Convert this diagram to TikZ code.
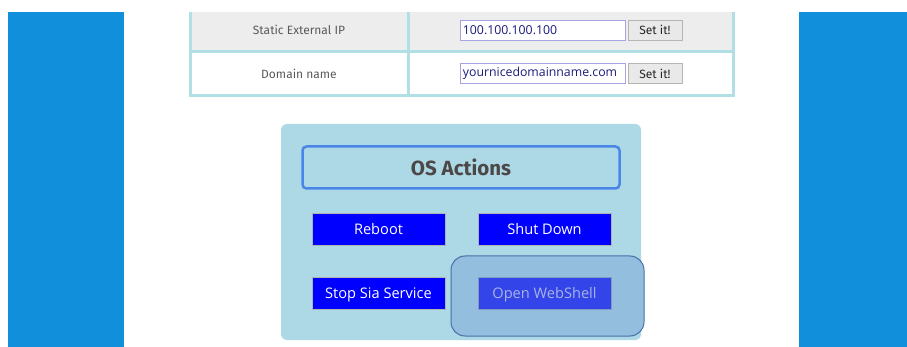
\documentclass[tikz,border=0pt]{standalone}
\usepackage{fontspec}
\setmainfont{Open Sans}
\newfontfamily\ubu{Fira Sans}
\begin{document}
\begin{tikzpicture}[x=1pt,y=-1pt,
  side/.style={fill=sideblue,draw=none},
  inbox/.style={draw=inborder,fill=white,line width=0.8pt,minimum width=165pt,minimum height=20pt,inner sep=2pt,anchor=west,text=intext,font=\fontsize{12.3}{14}\selectfont,align=left,text width=160pt},
  setbtn/.style={draw=btngray,fill=btnfill,line width=0.7pt,minimum width=54pt,minimum height=20pt,inner sep=0pt,font=\ubu\fontsize{12}{14}\selectfont,text=black!85},
  lbl/.style={font=\ubu\fontsize{12}{14}\selectfont,text=lbltext},
  osbtn/.style={draw=gray!60,fill=osblue,line width=0.8pt,minimum width=133pt,minimum height=32pt,inner sep=0pt,text height=10.4pt,text depth=0pt,text=white,font=\fontsize{14.6}{17}\selectfont}
]
\definecolor{sideblue}{HTML}{128FDB}
\definecolor{tborder}{HTML}{B0E0E6}
\definecolor{rowgray}{HTML}{EDEDED}
\definecolor{inborder}{HTML}{A7A4E6}
\definecolor{intext}{HTML}{1C1C7A}
\definecolor{btngray}{HTML}{B5B5B5}
\definecolor{btnfill}{HTML}{E9E9E9}
\definecolor{lbltext}{HTML}{5A5A5A}
\definecolor{panel}{HTML}{ADD8E6}
\definecolor{hdrborder}{HTML}{4A86E8}
\definecolor{hdrtext}{HTML}{4D4848}
\definecolor{osblue}{HTML}{0000FF}
\definecolor{wsblue}{HTML}{3344E8}
\definecolor{wstext}{HTML}{A8B4E6}
\definecolor{hlfill}{HTML}{94BEDE}
\definecolor{hlborder}{HTML}{4A6FA8}
\useasboundingbox (0,0) rectangle (907,347);
\fill[white] (0,0) rectangle (907,347);
% side panels
\fill[side] (8,12) rectangle (124,347);
\fill[side] (799,12) rectangle (907,347);
% table
\fill[rowgray] (189,12) rectangle (735,51);
\fill[white] (189,51) rectangle (735,95);
\draw[tborder,line width=3pt] (190.5,12) -- (190.5,95.5) -- (733.5,95.5) -- (733.5,12);
\draw[tborder,line width=3pt] (189,51.5) -- (735,51.5);
\draw[tborder,line width=3pt] (408.5,12) -- (408.5,95);
\node[lbl] (ip) at (299,30) {Static External IP};
\node[lbl] (dn) at (299,74) {Domain name};
\node[inbox] (ipin) at (460,30) {100.100.100.100};
\node[setbtn] (ipset) at (655,30) {Set it!};
\node[inbox] (dnin) at (460,73.5) {yournicedomainname.com};
\node[setbtn] (dnset) at (655,73.5) {Set it!};
% OS panel
\fill[panel,rounded corners=6pt] (281,124) rectangle (641,340);
\node[draw=hdrborder,line width=2.5pt,rounded corners=4pt,minimum width=317pt,minimum height=42pt,inner sep=0pt,text=hdrtext,font=\ubu\fontsize{20.5}{24}\selectfont\bfseries] (hdr) at (461,167.5) {OS Actions};
\node[osbtn] (reboot) at (378.5,229) {Reboot};
\node[osbtn] (shut) at (544.5,229) {Shut Down};
\node[osbtn] (stop) at (378.5,293) {Stop Sia Service};
\fill[hlfill,draw=hlborder,line width=1pt,rounded corners=14pt] (451,256) rectangle (644,336);
\node[osbtn,fill=wsblue,draw=hlborder!70,text=wstext] (ws) at (544.5,293) {Open WebShell};
\end{tikzpicture}
\end{document}
